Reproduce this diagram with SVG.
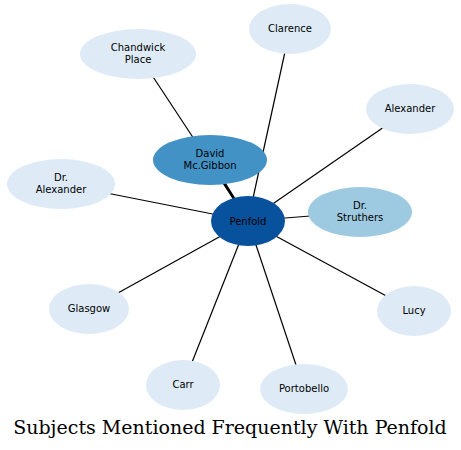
<svg xmlns="http://www.w3.org/2000/svg" width="461" height="450" viewBox="0 0 461 450">
<style>
.e{stroke:#000;stroke-width:1.2;fill:none}
.light{fill:#deebf7}
.t{font-family:"DejaVu Sans",sans-serif;font-size:10px;fill:#000;text-anchor:middle}
.title{font-family:"DejaVu Serif",serif;font-size:19px;fill:#000;text-anchor:middle}
</style>
<rect width="461" height="450" fill="#fff"/>
<g id="connectors">
<line class="e" x1="248" y1="221" x2="138" y2="54"/>
<line class="e" x1="248" y1="221" x2="290" y2="29"/>
<line class="e" x1="248" y1="221" x2="410" y2="109"/>
<line class="e" x1="248" y1="221" x2="61" y2="184"/>
<line class="e" x1="248" y1="221" x2="360" y2="212"/>
<line class="e" x1="248" y1="221" x2="89" y2="309"/>
<line class="e" x1="248" y1="221" x2="183" y2="385"/>
<line class="e" x1="248" y1="221" x2="304" y2="389"/>
<line class="e" x1="248" y1="221" x2="414" y2="311"/>
<line class="e" x1="248" y1="221" x2="210" y2="160" style="stroke-width:2.6"/>
</g>
<g id="chandwick"><ellipse class="light" cx="138" cy="54" rx="58" ry="25"/><text class="t" x="138" y="51">Chandwick</text><text class="t" x="138" y="63">Place</text></g>
<g id="clarence"><ellipse class="light" cx="290" cy="29" rx="41" ry="25"/><text class="t" x="290" y="32">Clarence</text></g>
<g id="alexander"><ellipse class="light" cx="410" cy="109" rx="44" ry="25"/><text class="t" x="410" y="112">Alexander</text></g>
<g id="dralexander"><ellipse class="light" cx="61" cy="184" rx="54" ry="25"/><text class="t" x="61" y="181">Dr.</text><text class="t" x="61" y="193">Alexander</text></g>
<g id="glasgow"><ellipse class="light" cx="89" cy="309" rx="40" ry="25"/><text class="t" x="89" y="312">Glasgow</text></g>
<g id="carr"><ellipse class="light" cx="183" cy="385" rx="37" ry="25"/><text class="t" x="183" y="388">Carr</text></g>
<g id="portobello"><ellipse class="light" cx="304" cy="389" rx="44" ry="25"/><text class="t" x="304" y="392">Portobello</text></g>
<g id="lucy"><ellipse class="light" cx="414" cy="311" rx="37" ry="25"/><text class="t" x="414" y="314">Lucy</text></g>
<g id="drstruthers"><ellipse cx="360" cy="212" rx="52" ry="25" fill="#9ecae1"/><text class="t" x="360" y="209">Dr.</text><text class="t" x="360" y="221">Struthers</text></g>
<g id="david"><ellipse cx="210" cy="160" rx="57" ry="25" fill="#4292c6"/><text class="t" x="210" y="157">David</text><text class="t" x="210" y="169">Mc.Gibbon</text></g>
<g id="penfold"><ellipse cx="248" cy="221" rx="37" ry="25" fill="#08519c"/><text class="t" x="248" y="225">Penfold</text></g>
<text class="title" x="230" y="434">Subjects Mentioned Frequently With Penfold</text>
</svg>
